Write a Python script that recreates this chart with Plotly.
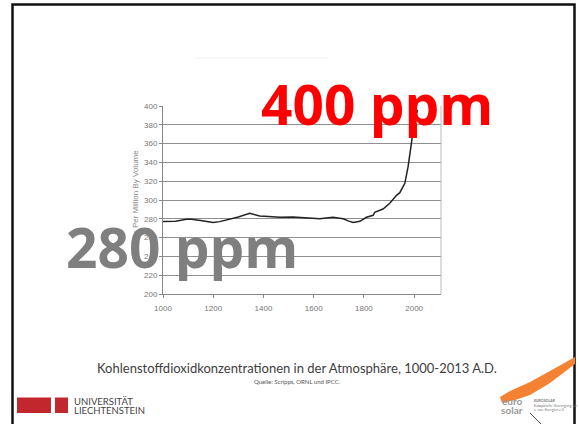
import plotly.graph_objects as go

W, H = 579, 424

# Data (CO2 concentration, ppm)
years = [1000, 1050, 1093, 1113, 1150, 1199, 1226, 1266, 1300, 1345, 1385,
         1420, 1465, 1518, 1570, 1624, 1677, 1717, 1740, 1757, 1784, 1810,
         1837, 1843, 1876, 1903, 1930, 1943, 1963, 1976, 1989, 1996, 2005, 2013]
ppm = [277, 277.5, 279.4, 279.5, 278.3, 276, 277, 279.4, 282, 285.8, 283,
       282.5, 281.6, 282, 281, 280, 281.6, 280, 277.5, 276, 277.3, 281.6,
       283.7, 287, 290.4, 296.5, 305, 307.8, 317.7, 335.5, 360, 374.5, 385, 396]

x_ticks = [1000, 1200, 1400, 1600, 1800, 2000]
y_ticks = [200, 220, 240, 260, 280, 300, 320, 340, 360, 380, 400]

caption = "Kohlenstoffdioxidkonzentrationen in der Atmosphäre, 1000-2013 A.D."
source = "Quelle: Scripps, ORNL und IPCC."
y_title = "Parts Per Million By Volume"


def px(x):
    return x / W


def py(y):
    return 1 - y / H


fig = go.Figure()
fig.add_trace(go.Scatter(x=years, y=ppm, mode="lines",
                         line=dict(color="#222222", width=1.5),
                         hoverinfo="skip", showlegend=False))

tickfont = dict(family="Liberation Sans, Arial", size=8, color="#777777")
fig.update_layout(
    width=W, height=H,
    margin=dict(l=0, r=0, t=0, b=0, autoexpand=False),
    paper_bgcolor="white", plot_bgcolor="white",
    showlegend=False,
    xaxis=dict(domain=[px(163), px(441)], range=[1000, 2107], automargin=False,
               tickvals=x_ticks, ticks="outside", ticklen=3, tickcolor="#888888",
               showgrid=False, zeroline=False, showline=True,
               linecolor="#888888", linewidth=1, tickfont=tickfont,
               ticklabelstandoff=3),
    yaxis=dict(domain=[py(294), py(106)], range=[200, 400], automargin=False,
               tickvals=y_ticks, ticks="outside", ticklen=3, tickcolor="#888888",
               showgrid=True, gridcolor="#8f8f8f", gridwidth=1,
               zeroline=False, showline=True, linecolor="#888888",
               linewidth=1, tickfont=tickfont),
)

shapes = []
# right border of the plot box
shapes.append(dict(type="line", xref="paper", yref="paper",
                   x0=px(441), x1=px(441), y0=py(294), y1=py(106),
                   line=dict(color="#bbbbbb", width=1)))
# faint chart title ghost
shapes.append(dict(type="line", xref="paper", yref="paper",
                   x0=px(195), x1=px(328), y0=py(58), y1=py(58),
                   line=dict(color="#eeeeee", width=1)))
# slide frame
shapes.append(dict(type="rect", xref="paper", yref="paper",
                   x0=px(12.5), x1=px(574.5), y0=py(4.5), y1=py(440),
                   line=dict(color="#111111", width=2.5)))
# university logo red blocks
shapes.append(dict(type="rect", xref="paper", yref="paper",
                   x0=px(17), x1=px(51), y0=py(413), y1=py(397.5),
                   fillcolor="#c1272d", line=dict(width=0)))
shapes.append(dict(type="rect", xref="paper", yref="paper",
                   x0=px(55), x1=px(68), y0=py(413), y1=py(397.5),
                   fillcolor="#c1272d", line=dict(width=0)))
# orange wedge
pts = [(575, 357), (550, 371), (530, 382), (510, 391), (500, 397),
       (502, 403), (515, 400), (530, 395), (550, 383), (575, 364)]
path = "M " + " L ".join(f"{px(a)},{py(b)}" for a, b in pts) + " Z"
shapes.append(dict(type="path", xref="paper", yref="paper", path=path,
                   fillcolor="#f58233", line=dict(width=0)))
# small arrow line near eurosolar logo
shapes.append(dict(type="line", xref="paper", yref="paper",
                   x0=px(530), x1=px(541), y0=py(413), y1=py(424),
                   line=dict(color="#555555", width=1)))
fig.update_layout(shapes=shapes)

ann = []
ann.append(dict(text=y_title, xref="paper", yref="paper", x=px(135), y=py(200),
                textangle=-90, showarrow=False, xanchor="center", yanchor="middle",
                font=dict(family="Liberation Sans, Arial", size=8, color="#888888")))
ann.append(dict(text="<b>400 ppm</b>", xref="paper", yref="paper", x=px(377), y=py(103),
                showarrow=False, xanchor="center", yanchor="middle",
                font=dict(family="Open Sans", size=55, color="#ff0000")))
ann.append(dict(text="<b>280 ppm</b>", xref="paper", yref="paper", x=px(182), y=py(246),
                showarrow=False, xanchor="center", yanchor="middle",
                font=dict(family="Open Sans", size=55, color="#7f7f7f")))
ann.append(dict(text=caption, xref="paper", yref="paper", x=px(297), y=py(368),
                showarrow=False, xanchor="center", yanchor="middle",
                font=dict(family="Lato", size=13, color="#404040")))
ann.append(dict(text=source, xref="paper", yref="paper", x=px(297), y=py(381),
                showarrow=False, xanchor="center", yanchor="middle",
                font=dict(family="Lato", size=6, color="#555555")))
ann.append(dict(text="UNIVERSITÄT", xref="paper", yref="paper", x=px(71.5), y=py(401),
                showarrow=False, xanchor="left", yanchor="middle",
                font=dict(family="Lato", size=9.5, color="#444444")))
ann.append(dict(text="LIECHTENSTEIN", xref="paper", yref="paper", x=px(71.5), y=py(410),
                showarrow=False, xanchor="left", yanchor="middle",
                font=dict(family="Lato", size=9.5, color="#444444")))
ann.append(dict(text="<b>euro</b>", xref="paper", yref="paper", x=px(512), y=py(401),
                showarrow=False, xanchor="center", yanchor="middle",
                font=dict(family="Lato", size=10, color="#999999")))
ann.append(dict(text="<b>solar</b>", xref="paper", yref="paper", x=px(512), y=py(410),
                showarrow=False, xanchor="center", yanchor="middle",
                font=dict(family="Lato", size=10, color="#999999")))
ann.append(dict(text="<b>EUROSOLAR</b><br>Europäische Vereinigung für<br>e. nav. Energien e.V.",
                xref="paper", yref="paper", x=px(532), y=py(405),
                showarrow=False, xanchor="left", yanchor="middle", align="left",
                font=dict(family="Lato", size=3.5, color="#777777")))
fig.update_layout(annotations=ann)

fig.write_html("out.html")
